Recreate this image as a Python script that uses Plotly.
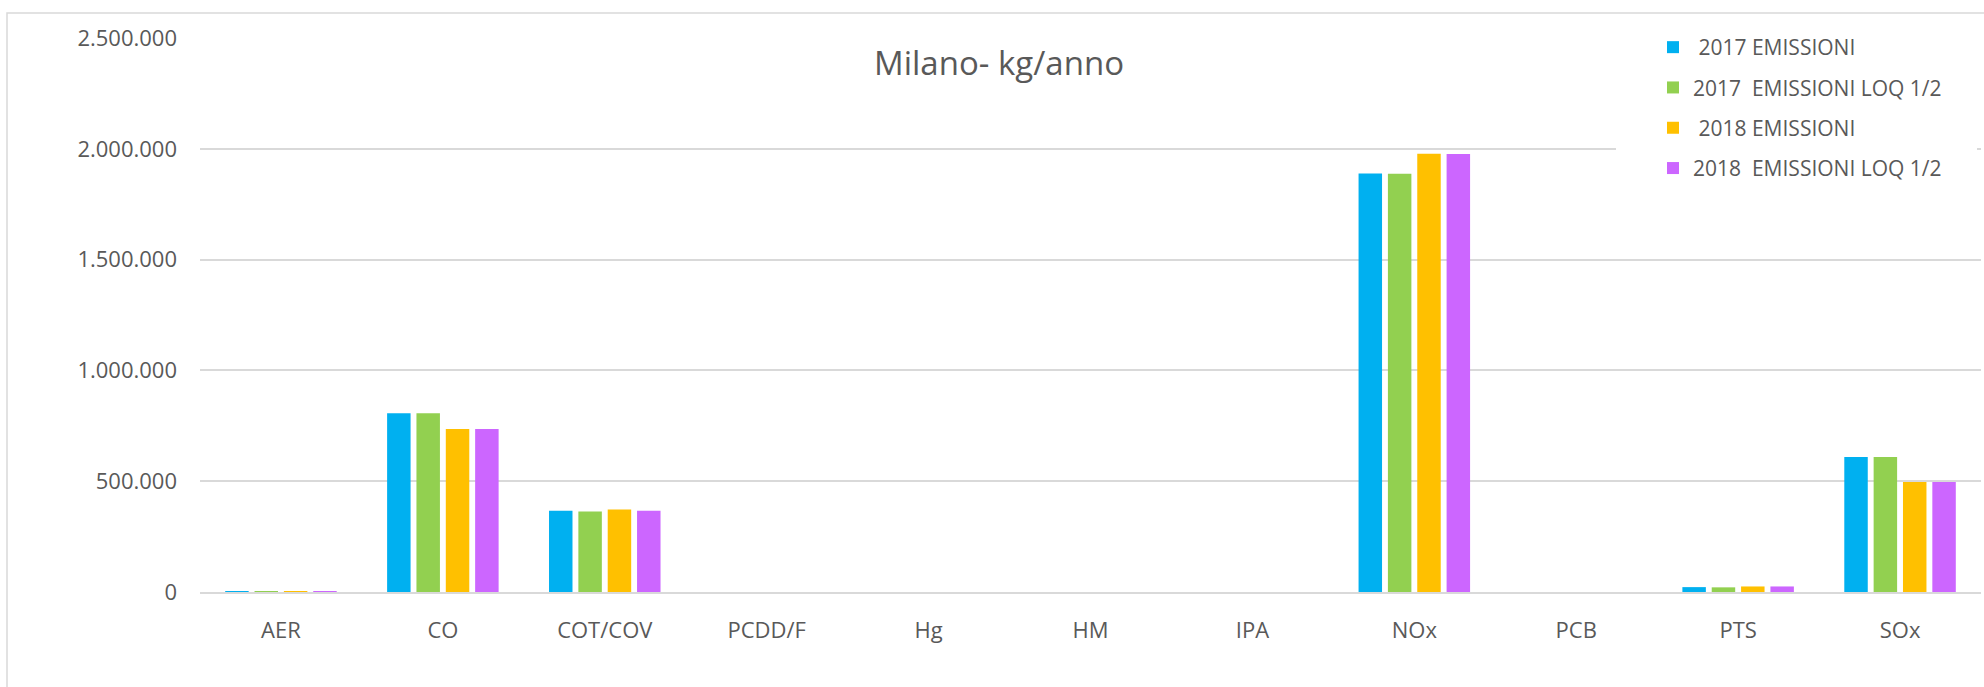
import plotly.graph_objects as go

categories = ["AER", "CO", "COT/COV", "PCDD/F", "Hg", "HM", "IPA", "NOx", "PCB", "PTS", "SOx"]

emissioni_2017 = [150, 807000, 367000, 0, 0, 0, 0, 1888000, 0, 22000, 609000]
emissioni_loq_2017 = [150, 807000, 363000, 0, 0, 0, 0, 1887000, 0, 21000, 609000]
emissioni_2018 = [180, 735000, 372000, 0, 0, 0, 0, 1978000, 0, 25000, 496000]
emissioni_loq_2018 = [180, 735000, 367000, 0, 0, 0, 0, 1977000, 0, 25000, 496000]

series_names = ["\u00a02017 EMISSIONI", "2017\u00a0 EMISSIONI LOQ 1/2",
                "\u00a02018 EMISSIONI", "2018\u00a0 EMISSIONI LOQ 1/2"]
series_values = [emissioni_2017, emissioni_loq_2017, emissioni_2018, emissioni_loq_2018]
series_colors = ["#00B0F0", "#92D050", "#FFC000", "#CC66FF"]

y_ticks = [0, 500000, 1000000, 1500000, 2000000, 2500000]

W, H = 1984, 687
L, R, T, B = 200, 3, 38, 95
plot_w = W - L - R
plot_h = H - T - B

fig = go.Figure()
for i, (n, v, c) in enumerate(zip(series_names, series_values, series_colors)):
    fig.add_trace(go.Bar(
        x=categories, y=v, name=n, legendgroup=f"g{i}",
        marker=dict(color=c, line=dict(width=0)),
    ))

TEXT = "#595959"
FONT = "Open Sans"
fig.update_layout(
    width=W, height=H,
    margin=dict(l=L, r=R, t=T, b=B),
    paper_bgcolor="white", plot_bgcolor="white",
    separators=",.",
    barmode="group", bargap=0.275, bargroupgap=0.2,
    font=dict(family=FONT, color=TEXT, size=21),
    title=dict(text="Milano- kg/anno", x=(999 - L) / plot_w, xref="paper", xanchor="center",
               y=1 - 63 / H, yref="container", yanchor="middle",
               font=dict(size=33, color=TEXT, family=FONT)),
    legend=dict(
        x=(1653 - L) / plot_w, y=1 - (27 - T) / plot_h,
        xanchor="left", yanchor="top",
        bgcolor="white", borderwidth=0,
        font=dict(size=21, color=TEXT, family=FONT),
        tracegroupgap=10, itemwidth=30,
    ),
    showlegend=True,
)

fig.update_xaxes(showgrid=False, showline=True, linecolor="#D9D9D9", linewidth=2,
                 ticks="", tickfont=dict(size=22, color=TEXT, family=FONT),
                 ticklabelstandoff=18)
fig.update_yaxes(range=[0, 2500000], tickvals=y_ticks, tickformat=",d",
                 showgrid=True, gridcolor="#D9D9D9", gridwidth=1.5,
                 zeroline=False, showline=False, ticks="",
                 tickfont=dict(size=22, color=TEXT, family=FONT),
                 ticklabelstandoff=22)

fig.add_shape(type="rect", xref="paper", yref="paper",
              x0=(7 - L) / plot_w, x1=(2000 - L) / plot_w,
              y0=1 - (700 - T) / plot_h, y1=1 - (13 - T) / plot_h,
              line=dict(color="#D9D9D9", width=1.5), fillcolor="rgba(0,0,0,0)", layer="below")
# legend background area (covers gridlines like the original legend box)
fig.add_shape(type="rect", xref="paper", yref="paper",
              x0=(1616 - L) / plot_w, x1=(1977 - L) / plot_w,
              y0=1 - (192 - T) / plot_h, y1=1 - (22 - T) / plot_h,
              line=dict(width=0), fillcolor="white", layer="above")

fig.write_html("out.html", config={"displayModeBar": False},
               post_script="document.body.style.margin='0';document.body.style.overflow='hidden';")
